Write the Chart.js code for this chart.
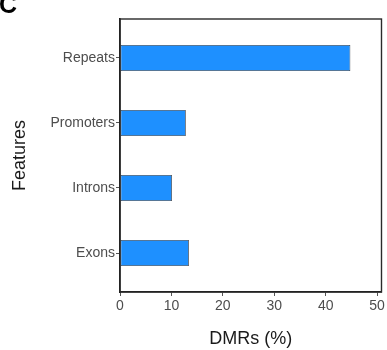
<!DOCTYPE html>
<html>
<head>
<meta charset="utf-8">
<script src="https://cdn.jsdelivr.net/npm/chart.js@4.4.1/dist/chart.umd.min.js"></script>
<style>
  html, body { margin: 0; padding: 0; background: #ffffff; }
  canvas { display: block; }
</style>
</head>
<body>
<canvas id="chart" width="387" height="350"></canvas>
<script>
// Genomic feature categories, bottom to top
const categories = ['Exons', 'Introns', 'Promoters', 'Repeats'];
// Share of DMRs falling in each feature (%)
const dmrPercent = [13.4, 10.1, 12.8, 44.8];
// Tick values on the DMR axis
const xTicks = [0, 10, 20, 30, 40, 50];
const panelLabel = 'C';

const FONT = "'Liberation Sans', Arial, Helvetica, sans-serif";

// Panel frame around the plotting area
const framePlugin = {
  id: 'panelFrame',
  afterDatasetsDraw(chart) {
    const { ctx, chartArea: a } = chart;
    ctx.save();
    ctx.strokeStyle = '#2a2a2a';
    ctx.lineWidth = 1.4;
    ctx.strokeRect(a.left, a.top, a.right - a.left, a.bottom - a.top);
    ctx.restore();
  }
};

// Figure panel letter in the top-left corner
const panelLetterPlugin = {
  id: 'panelLetter',
  afterDraw(chart) {
    const { ctx } = chart;
    ctx.save();
    ctx.fillStyle = '#000000';
    ctx.font = 'bold 25px ' + FONT;
    ctx.textAlign = 'left';
    ctx.textBaseline = 'alphabetic';
    ctx.fillText(panelLabel, -1, 12.5);
    ctx.restore();
  }
};

const points = categories.map((name, i) => ({ x: dmrPercent[i], y: i + 1 }));

new Chart(document.getElementById('chart'), {
  type: 'bar',
  data: {
    datasets: [{
      data: points,
      backgroundColor: '#1E90FF',
      borderColor: '#3a3f47',
      borderWidth: 0.8,
      borderSkipped: false,
      categoryPercentage: 1.0,
      barPercentage: 0.4
    }]
  },
  options: {
    indexAxis: 'y',
    responsive: false,
    animation: false,
    devicePixelRatio: 1,
    layout: { padding: { top: 19, right: 5.5, left: 0, bottom: 0 } },
    plugins: {
      legend: { display: false },
      tooltip: { enabled: false }
    },
    scales: {
      x: {
        type: 'linear',
        min: 0,
        max: 50.85,
        afterBuildTicks(scale) {
          scale.ticks = xTicks.map(v => ({ value: v }));
        },
        afterFit(scale) { scale.height = 58; },
        grid: {
          drawOnChartArea: false,
          drawTicks: true,
          tickLength: 4,
          tickColor: '#555555',
          tickWidth: 1
        },
        border: { display: true, color: '#111111', width: 1.6 },
        ticks: {
          color: '#4d4d4d',
          padding: 2,
          maxRotation: 0,
          font: { family: FONT, size: 14 }
        },
        title: {
          display: true,
          text: 'DMRs (%)',
          color: '#1a1a1a',
          padding: { top: 0, bottom: 0 },
          font: { family: FONT, size: 18 }
        }
      },
      y: {
        type: 'linear',
        offset: false,
        min: 0.4,
        max: 4.6,
        afterBuildTicks(scale) {
          scale.ticks = categories.map((c, i) => ({ value: i + 1 }));
        },
        afterFit(scale) { scale.width = 120; },
        grid: {
          offset: false,
          drawOnChartArea: false,
          drawTicks: true,
          tickLength: 4,
          tickColor: '#555555',
          tickWidth: 1
        },
        border: { display: true, color: '#111111', width: 1.6 },
        ticks: {
          color: '#4d4d4d',
          padding: 1,
          font: { family: FONT, size: 14 },
          callback: (v) => categories[Math.round(v) - 1]
        },
        title: {
          display: true,
          text: 'Features',
          color: '#1a1a1a',
          padding: { top: 9, bottom: 0 },
          font: { family: FONT, size: 18 }
        }
      }
    }
  },
  plugins: [framePlugin, panelLetterPlugin]
});
</script>
</body>
</html>
